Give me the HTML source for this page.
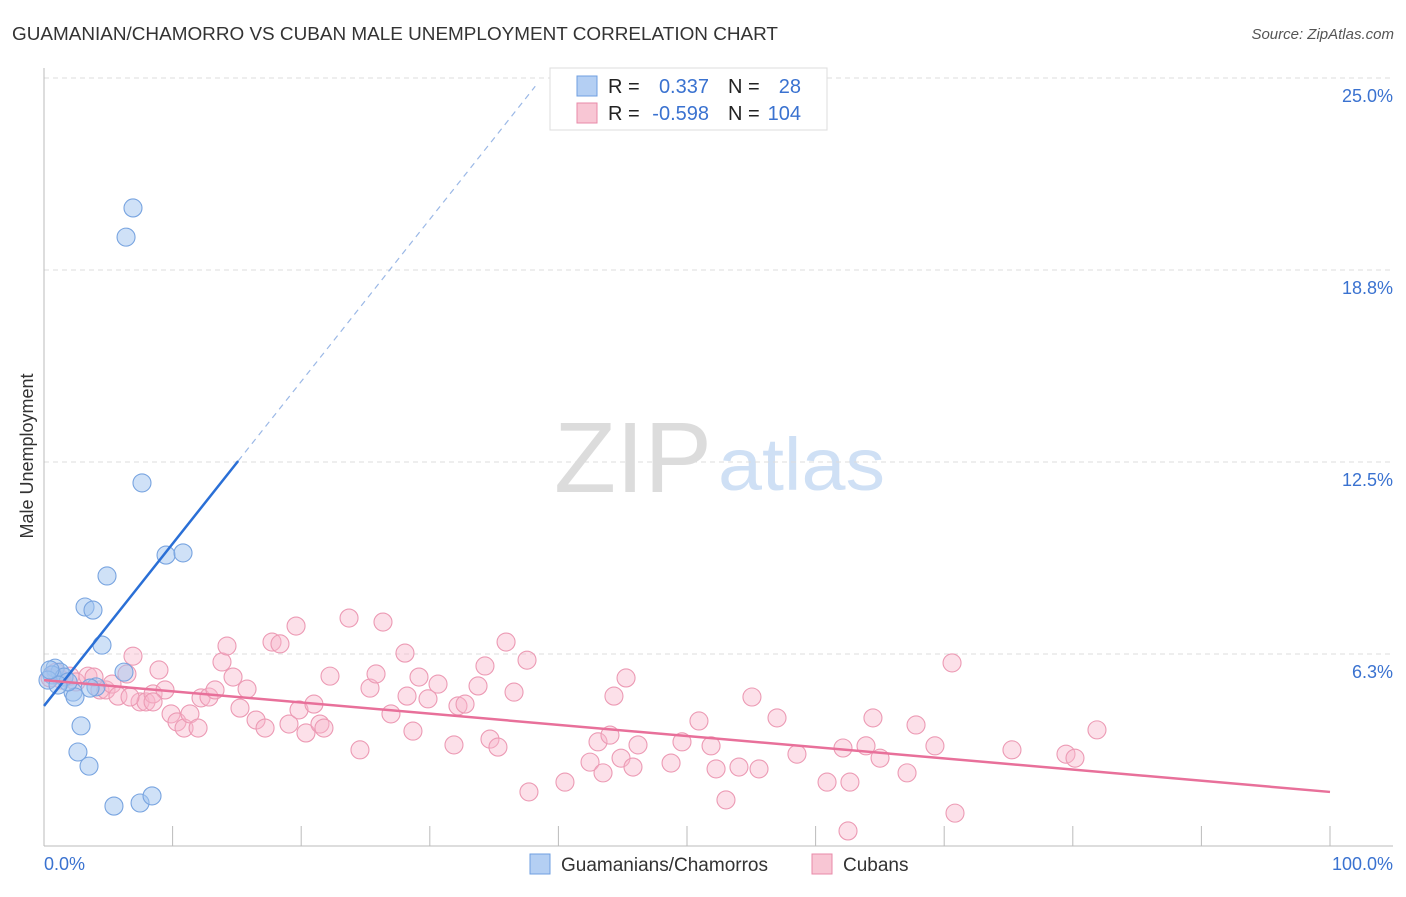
<!DOCTYPE html>
<html><head><meta charset="utf-8">
<style>
body{margin:0;background:#fff;font-family:"Liberation Sans",sans-serif;}
svg text{font-family:"Liberation Sans",sans-serif;}
</style></head>
<body>
<svg id="chart" width="1406" height="892" viewBox="0 0 1406 892" xmlns="http://www.w3.org/2000/svg">
<text x="12" y="40" font-size="18" fill="#333" textLength="766" lengthAdjust="spacingAndGlyphs">GUAMANIAN/CHAMORRO VS CUBAN MALE UNEMPLOYMENT CORRELATION CHART</text>
<text x="1394" y="39" font-size="15" fill="#555" text-anchor="end" font-style="italic">Source: ZipAtlas.com</text>
<g>
<text x="554" y="492" font-size="100" fill="#dcdcdc" font-family="Liberation Serif,serif" textLength="158" lengthAdjust="spacingAndGlyphs">ZIP</text>
<text x="718" y="490" font-size="74" fill="#cfe0f5" textLength="167" lengthAdjust="spacingAndGlyphs">atlas</text>
</g>
<g id="grid"></g>
<g id="axes"></g>
<g id="pts"></g>
<g id="trends"></g>
<text transform="translate(33,456) rotate(-90)" font-size="18" fill="#333" text-anchor="middle">Male Unemployment</text>
<g>
<rect x="550" y="68" width="277" height="62" fill="#fff" stroke="#ddd"/>
<rect x="577" y="76" width="20" height="20" fill="#b4cff3" stroke="#6f9fe0"/>
<rect x="577" y="103" width="20" height="20" fill="#f8c6d4" stroke="#e88aa8"/>
<text x="608" y="93" font-size="20" fill="#222">R =</text>
<text x="709" y="93" font-size="20" fill="#3a72d0" text-anchor="end">0.337</text>
<text x="728" y="93" font-size="20" fill="#222">N =</text>
<text x="801" y="93" font-size="20" fill="#3a72d0" text-anchor="end">28</text>
<text x="608" y="120" font-size="20" fill="#222">R =</text>
<text x="709" y="120" font-size="20" fill="#3a72d0" text-anchor="end">-0.598</text>
<text x="728" y="120" font-size="20" fill="#222">N =</text>
<text x="801" y="120" font-size="20" fill="#3a72d0" text-anchor="end">104</text>
</g>
<g>
<rect x="530" y="854" width="20" height="20" fill="#b4cff3" stroke="#6f9fe0"/>
<text x="561" y="871" font-size="19" fill="#333">Guamanians/Chamorros</text>
<rect x="812" y="854" width="20" height="20" fill="#f8c6d4" stroke="#e88aa8"/>
<text x="843" y="871" font-size="19" fill="#333">Cubans</text>
</g>
</svg>
<script>
const yTicks=[25.0,18.75,12.5,6.25];
const yTickLabels=["25.0%","18.8%","12.5%","6.3%"];
const xTicks=[0,10,20,30,40,50,60,70,80,90,100];
const blueX=[6.92,6.38,7.62,9.49,10.81,4.90,3.19,3.81,4.51,6.22,4.04,3.58,2.26,2.41,2.88,2.64,3.50,5.44,7.47,8.40,0.86,1.24,0.62,1.56,0.31,1.87,1.09,0.47];
const blueY=[20.77,19.82,11.82,9.47,9.54,8.79,7.78,7.68,6.54,5.66,5.18,5.14,5.01,4.85,3.91,3.06,2.60,1.30,1.40,1.63,5.79,5.66,5.57,5.50,5.40,5.34,5.24,5.73];
const pinkX=[0.47,0.93,1.40,2.02,2.49,3.42,3.89,4.35,4.82,5.29,5.75,6.45,6.92,7.47,7.93,8.48,8.94,9.41,9.88,10.34,10.89,11.35,11.98,12.21,12.83,13.30,13.84,14.23,14.70,15.24,15.79,16.49,17.19,17.73,18.35,19.05,19.60,19.83,20.37,20.99,21.46,21.77,22.24,23.72,24.57,25.35,25.82,26.36,26.98,28.07,28.23,28.69,29.16,29.86,30.64,31.88,32.19,32.74,33.75,34.29,34.68,35.30,36.55,37.56,35.93,37.71,40.51,42.46,43.08,43.47,44.01,44.32,44.87,45.26,45.80,46.19,48.76,49.61,50.93,51.87,52.26,53.03,54.04,55.05,55.60,57.00,58.55,60.89,62.13,62.67,62.52,63.92,64.46,65.01,67.11,67.81,69.28,70.61,70.84,75.27,79.47,80.17,81.88,6.69,8.48];
const pinkY=[5.47,5.66,5.40,5.53,5.34,5.53,5.50,5.08,5.08,5.27,4.88,5.60,6.18,4.69,4.69,4.95,5.73,5.08,4.30,4.04,3.84,4.30,3.84,4.82,4.85,5.08,5.99,6.51,5.50,4.49,5.11,4.10,3.84,6.64,6.58,3.97,7.16,4.43,3.68,4.62,3.97,3.84,5.53,7.42,3.13,5.14,5.60,7.29,4.30,6.28,4.88,3.74,5.50,4.79,5.27,3.29,4.56,4.62,5.21,5.86,3.48,3.22,5.01,6.05,6.64,1.76,2.08,2.73,3.39,2.38,3.61,4.88,2.86,5.47,2.57,3.29,2.70,3.39,4.07,3.26,2.51,1.50,2.57,4.85,2.51,4.17,2.99,2.08,3.19,2.08,0.49,3.26,4.17,2.86,2.38,3.94,3.26,5.96,1.07,3.13,2.99,2.86,3.78,4.85,4.69];
const blueTrend=[4.56,0.528]; // intercept, slope
const pinkTrend=[5.40,1.76]; // y at 0, y at 100

const NS="http://www.w3.org/2000/svg";
const X=v=>44+v*12.86;
const Y=v=>846-v*30.72;
function mk(tag,parent,attrs){const e=document.createElementNS(NS,tag);for(const k in attrs)e.setAttribute(k,attrs[k]);document.getElementById(parent).appendChild(e);return e;}
yTicks.forEach((t,i)=>{
  const l=mk('line','grid',{x1:44,x2:1393,y1:Y(t),y2:Y(t),stroke:'#ddd','stroke-dasharray':'5,4'});
  
  
  const tx=mk('text','grid',{x:1393,y:Y(t)+24,'font-size':18,fill:'#3a72d0','text-anchor':'end'});
  tx.textContent=yTickLabels[i];
  
  
});
const ya=mk('line','axes',{x1:44,x2:44,y1:68,y2:846,stroke:'#bbb'});


const xa=mk('line','axes',{x1:44,x2:1393,y1:846,y2:846,stroke:'#bbb'});


xTicks.forEach(t=>{
  const l=mk('line','axes',{x1:X(t),x2:X(t),y1:826,y2:846,stroke:'#bbb'});
  
  
});
const x0=mk('text','axes',{x:44,y:870,'font-size':18,fill:'#3a72d0'});x0.textContent='0.0%';


const x1=mk('text','axes',{x:1393,y:870,'font-size':18,fill:'#3a72d0','text-anchor':'end'});x1.textContent='100.0%';


pinkX.forEach((v,i)=>{
  const c=mk('circle','pts',{cx:X(v),cy:Y(pinkY[i]),r:9,fill:'rgba(248,182,202,0.42)',stroke:'#ec9ab4','stroke-width':1.1});
  
  
});
blueX.forEach((v,i)=>{
  const c=mk('circle','pts',{cx:X(v),cy:Y(blueY[i]),r:9,fill:'rgba(160,195,240,0.5)',stroke:'#78a4e0','stroke-width':1.1});
  
  
});
const bs=mk('line','trends',{x1:X(0),y1:Y(blueTrend[0]),x2:X(15.1),y2:Y(blueTrend[0]+blueTrend[1]*15.1),stroke:'#2a6fd6','stroke-width':2.5});


const bd=mk('line','trends',{x1:X(15.1),y1:Y(blueTrend[0]+blueTrend[1]*15.1),x2:X(38.2),y2:Y(blueTrend[0]+blueTrend[1]*38.2),stroke:'#9bb8e6','stroke-width':1.2,'stroke-dasharray':'6,5'});


const pt=mk('line','trends',{x1:X(0),y1:Y(pinkTrend[0]),x2:X(100),y2:Y(pinkTrend[1]),stroke:'#e8709a','stroke-width':2.5});


</script>
</body></html>
